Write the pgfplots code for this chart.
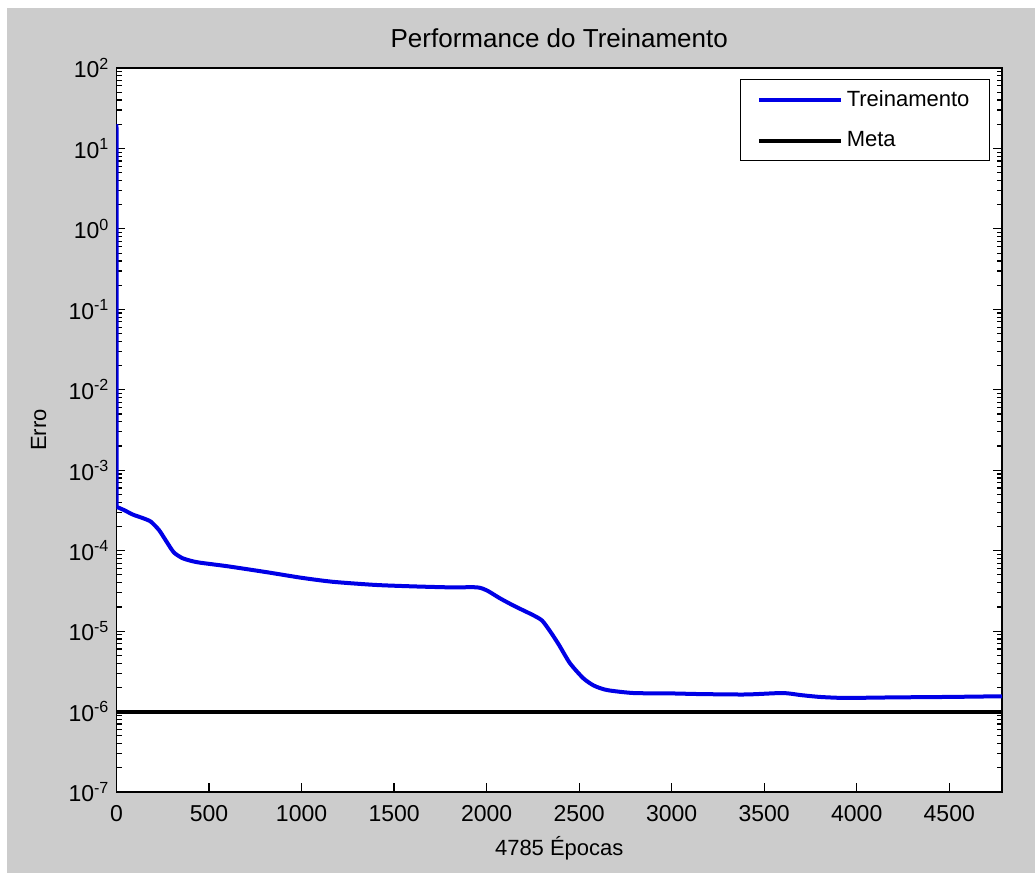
\documentclass[border=0pt]{standalone}
\usepackage{pgfplots}
\pgfplotsset{compat=1.18}
\usepackage{fontspec}
\setmainfont{Liberation Sans}
\definecolor{bg}{RGB}{204,204,204}
\definecolor{mblue}{RGB}{0,0,230}
\begin{document}
\begin{tikzpicture}
\fill[white] (0,0) rectangle (517.5pt,436.5pt);
\fill[bg] (3.5pt,0) rectangle (517.5pt,432.5pt);
\begin{axis}[
  at={(58.25pt,40.5pt)}, anchor=south west,
  scale only axis, width=442.75pt, height=362pt,
  ymode=log, xmin=0, xmax=4785, ymin=1e-7, ymax=1e2,
  axis background/.style={fill=white},
  axis line style={line width=0.7pt, black},
  tick style={black, line width=0.6pt},
  tick align=inside,
  major tick length=4.5pt, minor tick length=2.6pt,
  xtick={0,500,...,4500},
  xtick pos=lower, ytick pos=both,
  ytick={1e-7,1e-6,1e-5,1e-4,1e-3,1e-2,1e-1,1e0,1e1,1e2},
  minor ytick={2e-7,3e-7,4e-7,5e-7,6e-7,7e-7,8e-7,9e-7,
    2e-6,3e-6,4e-6,5e-6,6e-6,7e-6,8e-6,9e-6,
    2e-5,3e-5,4e-5,5e-5,6e-5,7e-5,8e-5,9e-5,
    2e-4,3e-4,4e-4,5e-4,6e-4,7e-4,8e-4,9e-4,
    2e-3,3e-3,4e-3,5e-3,6e-3,7e-3,8e-3,9e-3,
    2e-2,3e-2,4e-2,5e-2,6e-2,7e-2,8e-2,9e-2,
    2e-1,3e-1,4e-1,5e-1,6e-1,7e-1,8e-1,9e-1,
    2,3,4,5,6,7,8,9,
    20,30,40,50,60,70,80,90},
  yticklabels={10\textsuperscript{-7},10\textsuperscript{-6},10\textsuperscript{-5},10\textsuperscript{-4},10\textsuperscript{-3},10\textsuperscript{-2},10\textsuperscript{-1},10\textsuperscript{0},10\textsuperscript{1},10\textsuperscript{2}},
  /pgf/number format/assume math mode=true,
  /pgf/number format/1000 sep={},
  ticklabel style={font=\fontsize{11.5}{13}\selectfont},
  xticklabel style={yshift=-3pt},
  title={Performance do Treinamento},
  title style={font=\fontsize{13}{15}\selectfont, at={(0.5,1.025)}, anchor=center},
  xlabel={4785 Épocas},
  xlabel style={font=\fontsize{11}{13}\selectfont, at={(0.5,-0.0774)}, anchor=center},
  ylabel={Erro},
  ylabel style={font=\fontsize{11}{13}\selectfont, at={(-0.088,0.5)}, anchor=center, rotate=0},
  legend style={at={(0.9864,0.9848)}, anchor=north east, draw=black, line width=0.5pt,
    font=\fontsize{11}{13}\selectfont, inner xsep=8pt, inner ysep=3.5pt, row sep=7pt},
  legend cell align=left,
  legend image code/.code={\draw[#1] (0pt,0pt) -- (41pt,0pt);},
]
\addplot[mblue, line width=2pt, forget plot] coordinates {(0,20) (1,3.5e-4)};
\addplot[mblue, line width=2pt, line join=round, smooth, tension=0.4] coordinates {
(1,3.5e-4) (40,3.2e-4) (90,2.8e-4) (140,2.55e-4) (185,2.3e-4) (230,1.8e-4)
(270,1.3e-4) (310,9.5e-5) (355,8.1e-5) (400,7.5e-5) (450,7.1e-5) (600,6.4e-5)
(812,5.4e-5) (1000,4.6e-5) (1170,4.1e-5) (1400,3.75e-5) (1600,3.6e-5) (1800,3.5e-5)
(1948,3.5e-5) (2002,3.2e-5) (2073,2.55e-5) (2150,2.05e-5) (2251,1.58e-5) (2300,1.35e-5)
(2345,9.8e-6) (2390,6.8e-6) (2450,4.0e-6) (2522,2.6e-6) (2580,2.1e-6) (2651,1.85e-6)
(2793,1.7e-6) (3000,1.68e-6) (3153,1.65e-6) (3400,1.63e-6) (3600,1.7e-6) (3700,1.6e-6)
(3800,1.52e-6) (3910,1.48e-6) (4000,1.48e-6) (4200,1.5e-6) (4500,1.52e-6) (4785,1.55e-6)
};
\addlegendentry{Treinamento}
\addplot[black, line width=2pt] coordinates {(0,1e-6) (4785,1e-6)};
\addlegendentry{Meta}
\end{axis}
\end{tikzpicture}
\end{document}
